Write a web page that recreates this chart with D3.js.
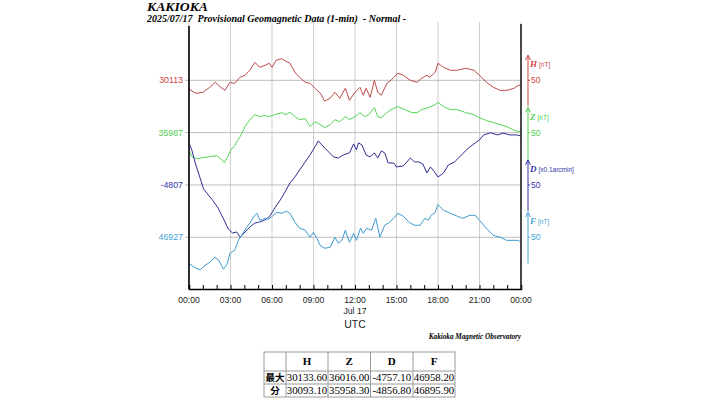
<!DOCTYPE html>
<html>
<head>
<meta charset="utf-8">
<script src="https://cdn.jsdelivr.net/npm/d3@7"></script>
<style>
  body { margin: 0; background: #fff; }
  svg { display: block; }
</style>
</head>
<body>
<div id="chart"></div>
<script>
// components and their base values (left labels)
const components = ["H", "Z", "D", "F"];
const baseValues = [30113, 35987, -4807, 46927];
const baseLabels = ["30113", "35987", "-4807", "46927"];
const unitLabels = ["[nT]", "[nT]", "[x0.1arcmin]", "[nT]"];
const offsets = [75, 25, -25, -75]; // plot units, one gridline per component

// 1-min data (hours UTC)
const hHours = [0,0.5,1,1.5,1.9,2.3,2.6,2.96,3.3,3.7,4.05,4.4,4.77,5.1,5.5,5.8,6,6.3,6.7,7,7.3,7.7,8,8.4,8.75,9.1,9.5,9.8,10.2,10.55,10.9,11.3,11.6,12,12.36,12.6,12.8,13.1,13.4,13.65,13.9,14.3,14.6,15.1,15.5,16,16.5,16.8,17.2,17.4,17.8,18,18.4,18.9,19.4,20,20.6,21,21.5,22,22.5,23,23.5,23.8,24];
const hValues = [30104.4,30100.6,30101.5,30106.3,30111.1,30106.3,30103.4,30111.1,30110.1,30115.9,30117.8,30122.6,30130.2,30125.4,30127.3,30129.3,30125.4,30132.1,30133.6,30131.2,30129.3,30119.7,30115.9,30111.1,30110.1,30105.4,30100.6,30093.1,30095.8,30101.5,30095.8,30105.4,30093.9,30101.5,30106.3,30098.7,30105.4,30096.7,30113.0,30101.5,30098.7,30110.1,30113.0,30119.7,30117.8,30113.0,30111.1,30114.9,30117.8,30115.9,30120.6,30129.3,30125.4,30122.6,30122.6,30124.5,30122.6,30117.8,30111.1,30106.3,30103.4,30103.4,30105.4,30108.2,30108.2];

const zHours = [0,0.2,0.6,1,1.5,2,2.3,2.55,2.8,3,3.3,3.55,3.7,4.05,4.4,4.77,5.1,5.5,5.8,6.2,6.7,7,7.3,7.65,8,8.4,8.75,9.1,9.5,9.8,10.2,10.55,10.9,11.3,11.6,12,12.36,12.7,13,13.4,13.65,13.9,14.3,14.6,15.1,15.6,16.1,16.5,16.8,17.3,17.8,18,18.4,18.9,19.4,20,20.6,21,21.5,22,22.5,23,23.4,23.8,24];
const zValues = [35969.8,35964.1,35962.1,35963.1,35964.1,35965.0,35962.1,35958.3,35964.1,35969.8,35974.6,35980.3,35983.2,35992.7,35999.4,36004.2,36002.3,36003.3,36002.3,36004.2,36006.1,36004.2,36006.4,36002.3,35999.4,36000.4,35992.7,35997.5,35994.6,35991.8,35994.6,35999.4,35997.5,36002.3,35999.4,36002.3,36006.1,36002.3,36004.2,36010.9,36002.3,36001.3,36006.1,36009.0,36011.9,36009.0,36006.1,36006.1,36009.0,36010.9,36013.8,36016.0,36011.9,36009.0,36009.0,36006.1,36004.2,36001.3,35998.5,35996.6,35994.6,35992.7,35989.9,35988.0,35988.0];

const dHours = [0,0.2,0.45,0.8,1.05,1.4,1.75,2.1,2.5,2.84,3.15,3.44,3.7,4.05,4.4,4.77,5.1,5.5,5.85,6.2,6.6,6.94,7.3,7.65,8,8.4,8.75,9.1,9.35,9.6,10.1,10.45,10.8,11.15,11.6,11.9,12.1,12.25,12.5,12.8,13.1,13.4,13.65,13.9,14.15,14.4,14.8,15,15.5,16,16.3,16.6,16.9,17.2,17.45,17.7,18,18.4,18.75,19.2,19.7,20.2,20.7,21,21.3,21.8,22.3,22.7,23.2,23.7,24];
const dValues = [-4766.8,-4773.5,-4786.0,-4800.3,-4810.8,-4816.6,-4822.3,-4829.0,-4839.5,-4849.1,-4852.9,-4851.9,-4856.8,-4851.9,-4847.2,-4843.3,-4842.4,-4840.5,-4836.6,-4829.0,-4821.3,-4813.7,-4805.1,-4799.4,-4792.7,-4785.0,-4778.3,-4770.7,-4764.9,-4768.8,-4775.5,-4780.2,-4781.2,-4778.3,-4776.4,-4767.8,-4773.5,-4766.8,-4768.8,-4778.3,-4780.2,-4776.4,-4781.2,-4774.5,-4776.4,-4786.0,-4786.0,-4789.8,-4788.8,-4781.2,-4785.0,-4785.0,-4786.9,-4795.5,-4789.8,-4793.6,-4799.4,-4795.5,-4787.9,-4785.0,-4778.3,-4771.6,-4766.8,-4764.0,-4759.2,-4757.1,-4759.2,-4757.5,-4759.2,-4759.2,-4760.2];

const fHours = [0,0.4,0.8,1.16,1.5,1.88,2.15,2.5,2.75,2.96,3.3,3.57,3.8,4.17,4.4,4.65,4.9,5.13,5.5,5.73,6.1,6.35,6.7,7.06,7.3,7.66,8,8.4,8.75,9,9.25,9.47,9.8,10.2,10.55,10.8,11.05,11.3,11.6,11.9,12.1,12.4,12.6,12.85,13.2,13.5,13.8,14.15,14.5,14.85,15.1,15.5,15.9,16.3,16.7,17.05,17.3,17.5,17.8,18,18.4,18.9,19.4,19.8,20.3,20.7,21,21.5,22,22.5,22.96,23.5,23.8,24];
const fValues = [46902.1,46898.3,46895.9,46900.2,46903.1,46907.9,46905.0,46896.5,46901.2,46911.7,46914.6,46924.1,46928.9,46936.6,46940.4,46946.1,46949.9,46943.3,46945.2,46944.2,46948.0,46950.9,46949.9,46951.9,46949.9,46941.3,46935.6,46933.7,46927.0,46931.8,46926.0,46919.4,46916.5,46917.4,46927.0,46921.3,46924.1,46933.7,46922.2,46930.8,46924.1,46935.6,46930.8,46935.6,46933.7,46945.2,46927.0,46938.5,46941.3,46946.1,46949.9,46947.1,46941.3,46938.5,46938.5,46945.2,46943.3,46948.0,46950.9,46958.2,46952.8,46949.9,46947.1,46945.2,46948.0,46948.0,46943.3,46935.6,46928.9,46927.0,46924.1,46924.1,46924.1,46922.2];

// summary table
const tableCols = ["H", "Z", "D", "F"];
const rowLabels = ["最大", "分"];
const maxRow = ["30133.60", "36016.00", "-4757.10", "46958.20"];
const minRow = ["30093.10", "35958.30", "-4856.80", "46895.90"];

const seriesHours = [hHours, zHours, dHours, fHours];
const seriesValues = [hValues, zValues, dValues, fValues];
const lineColors = ["#c04a48", "#55d455", "#2e2e92", "#3d9bd0"];
const labelColors = ["#d04444", "#4fd04f", "#3535a8", "#45a2d8"];

const W = 720, H = 399;
const svg = d3.select("#chart").append("svg").attr("width", W).attr("height", H)
  .style("font-family", "'Liberation Sans', Arial, sans-serif");

const t0 = new Date(Date.UTC(2025, 6, 17, 0, 0));
const toDate = (h) => new Date(t0.getTime() + h * 3600e3);
const x = d3.scaleUtc().domain([t0, toDate(24)]).range([189, 521]);
const y = d3.scaleLinear().domain([-124.4, 130.7]).range([289, 22]);

// grid
const majorTicks = d3.range(0, 25, 3).map(toDate);
svg.append("g").selectAll("line").data(majorTicks).join("line")
  .attr("x1", (d) => x(d)).attr("x2", (d) => x(d))
  .attr("y1", y.range()[1]).attr("y2", y.range()[0])
  .attr("stroke", "#cfcfcf").attr("stroke-width", 1);
svg.append("g").selectAll("line").data(offsets).join("line")
  .attr("x1", 185).attr("x2", 521)
  .attr("y1", (d) => y(d)).attr("y2", (d) => y(d))
  .attr("stroke", "#bdbdbd").attr("stroke-width", 1);

// left base labels
svg.append("g").selectAll("text").data(baseLabels).join("text")
  .attr("x", 183).attr("y", (d, i) => y(offsets[i]))
  .attr("dy", "0.35em").attr("text-anchor", "end")
  .attr("font-size", 8.8).attr("fill", (d, i) => labelColors[i])
  .text((d) => d);

// series lines
components.forEach((c, i) => {
  const pts = seriesHours[i].map((h, j) => [toDate(h), offsets[i] + seriesValues[i][j] - baseValues[i]]);
  svg.append("path").datum(pts)
    .attr("fill", "none").attr("stroke", lineColors[i]).attr("stroke-width", 1)
    .attr("stroke-linejoin", "round")
    .attr("d", d3.line().x((d) => x(d[0])).y((d) => y(d[1])));
});

// axes
const xAxis = d3.axisBottom(x)
  .tickValues(d3.range(0, 25, 1).map(toDate))
  .tickSize(-4).tickFormat("");
const gx = svg.append("g").attr("transform", `translate(0,${y.range()[0]})`).call(xAxis);
gx.select(".domain").attr("stroke", "#000").attr("stroke-width", 1.6);
gx.selectAll(".tick line").attr("stroke", "#000");
const fmt = d3.utcFormat("%H:%M");
svg.append("g").selectAll("text").data(majorTicks).join("text")
  .attr("x", (d) => x(d)).attr("y", 303)
  .attr("text-anchor", "middle").attr("font-size", 8.6).attr("fill", "#222")
  .text((d) => fmt(d));
svg.append("text").attr("x", x(toDate(12))).attr("y", 314)
  .attr("text-anchor", "middle").attr("font-size", 8.6).attr("fill", "#222").text("Jul 17");
svg.append("text").attr("x", x(toDate(12))).attr("y", 328)
  .attr("text-anchor", "middle").attr("font-size", 10.5).attr("fill", "#222").text("UTC");

svg.append("line").attr("x1", 189).attr("x2", 189).attr("y1", 26).attr("y2", 289)
  .attr("stroke", "#000").attr("stroke-width", 1.6);
svg.append("line").attr("x1", 521).attr("x2", 521).attr("y1", 24).attr("y2", 289)
  .attr("stroke", "#222").attr("stroke-width", 1.6);

// right scale bars
const rg = svg.append("g");
components.forEach((c, i) => {
  const bx = 528;
  const top = y(offsets[i] + 24), bot = y(offsets[i] - 25);
  rg.append("line").attr("x1", bx).attr("x2", bx).attr("y1", top).attr("y2", bot)
    .attr("stroke", labelColors[i]).attr("stroke-width", 1);
  rg.append("path").attr("d", `M${bx - 2.5},${top + 5}L${bx},${top}L${bx + 2.5},${top + 5}`)
    .attr("fill", "none").attr("stroke", labelColors[i]).attr("stroke-width", 1);
  rg.append("line").attr("x1", bx).attr("x2", bx + 2).attr("y1", y(offsets[i])).attr("y2", y(offsets[i]))
    .attr("stroke", labelColors[i]);
  rg.append("text").attr("x", 531).attr("y", y(offsets[i])).attr("dy", "0.35em")
    .attr("font-size", 8.6).attr("fill", labelColors[i]).text("50");
  const lab = rg.append("text").attr("x", 530).attr("y", y(offsets[i]) - 13)
    .attr("fill", labelColors[i]);
  lab.append("tspan").attr("font-family", "'Liberation Serif', serif").attr("font-style", "italic")
    .attr("font-weight", "bold").attr("font-size", 9).text(c);
  lab.append("tspan").attr("dx", 2).attr("font-size", 6.5).text(unitLabels[i]);
});

// titles
svg.append("text").attr("x", 147).attr("y", 11)
  .attr("font-family", "'Liberation Serif', serif").attr("font-style", "italic").attr("font-weight", "bold")
  .attr("font-size", 12).attr("textLength", 61).attr("lengthAdjust", "spacingAndGlyphs")
  .attr("fill", "#000").text("KAKIOKA");
svg.append("text").attr("x", 147).attr("y", 21.5).attr("xml:space", "preserve")
  .attr("font-family", "'Liberation Serif', serif").attr("font-style", "italic").attr("font-weight", "bold")
  .attr("font-size", 10).attr("fill", "#000")
  .text("2025/07/17  Provisional Geomagnetic Data (1-min)  - Normal -");
svg.append("text").attr("x", 521).attr("y", 339).attr("text-anchor", "end")
  .attr("font-family", "'Liberation Serif', serif").attr("font-style", "italic").attr("font-weight", "bold")
  .attr("font-size", 7.2).attr("fill", "#000").text("Kakioka Magnetic Observatory");

// table
const colEdges = [264, 286, 328, 370.5, 413, 455];
const rowEdges = [352, 371, 384, 397];
const tg = svg.append("g").attr("font-family", "'Liberation Serif', serif").attr("fill", "#000");
tg.append("rect").attr("x", colEdges[0]).attr("y", rowEdges[0])
  .attr("width", colEdges[5] - colEdges[0]).attr("height", rowEdges[3] - rowEdges[0])
  .attr("fill", "#fff").attr("stroke", "#9a9a9a");
colEdges.slice(1, 5).forEach((cx) => tg.append("line").attr("x1", cx).attr("x2", cx)
  .attr("y1", rowEdges[0]).attr("y2", rowEdges[3]).attr("stroke", "#9a9a9a"));
rowEdges.slice(1, 3).forEach((ry) => tg.append("line").attr("x1", colEdges[0]).attr("x2", colEdges[5])
  .attr("y1", ry).attr("y2", ry).attr("stroke", "#9a9a9a"));
const colMid = (k) => (colEdges[k] + colEdges[k + 1]) / 2;
const rowMid = (r) => (rowEdges[r] + rowEdges[r + 1]) / 2;
tg.selectAll(".hdr").data(tableCols).join("text").attr("class", "hdr")
  .attr("x", (d, k) => colMid(k + 1)).attr("y", rowMid(0)).attr("dy", "0.35em")
  .attr("text-anchor", "middle").attr("font-weight", "bold").attr("font-size", 11).text((d) => d);
[maxRow, minRow].forEach((row, r) => {
  tg.append("text").attr("x", colMid(0)).attr("y", rowMid(r + 1)).attr("dy", "0.36em")
    .attr("text-anchor", "middle").attr("font-family", "'Noto Sans CJK JP', sans-serif")
    .attr("font-weight", "bold").attr("font-size", 9.5).text(rowLabels[r]);
  tg.selectAll(".r" + r).data(row).join("text").attr("class", "r" + r)
    .attr("x", (d, k) => colMid(k + 1)).attr("y", rowMid(r + 1)).attr("dy", "0.35em")
    .attr("text-anchor", "middle").attr("font-size", 10.8).text((d) => d);
});
</script>
</body>
</html>
